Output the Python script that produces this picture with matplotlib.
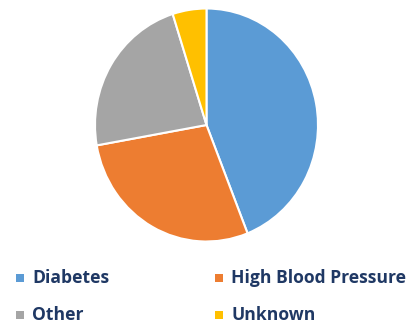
import matplotlib
matplotlib.use("Agg")
import matplotlib.pyplot as plt
from matplotlib.patches import Rectangle

# causes and their shares (%)
labels = ["Diabetes", "High Blood Pressure", "Other", "Unknown"]
shares = [44, 28.2, 22.9, 4.9]
colors = ["#5B9BD5", "#ED7D31", "#A5A5A5", "#FFC000"]

W, H = 418, 324
fig = plt.figure(figsize=(W / 100, H / 100), dpi=100)

# pie area (pixels): centre (206.5, 125 from top), radii 111.5 x 116.5
cx, cy, rx, ry = 206.5, 125, 111.5, 116.5
ax = fig.add_axes([(cx - rx) / W, (H - cy - ry) / H, 2 * rx / W, 2 * ry / H])
ax.pie(shares, colors=colors, startangle=90, counterclock=False, radius=1,
       wedgeprops=dict(edgecolor="white", linewidth=1.5))
ax.set_aspect("auto")
ax.set_xlim(-1, 1)
ax.set_ylim(-1, 1)
ax.axis("off")

# legend laid out by hand, two entries per row
col_x = [16, 215]
row_y = [278, 315]
for i, (lab, c) in enumerate(zip(labels, colors)):
    x = col_x[i % 2]
    y = H - row_y[i // 2]
    fig.patches.append(Rectangle((x / W, (y - 4) / H), 8 / W, 8 / H,
                                 transform=fig.transFigure, facecolor=c,
                                 edgecolor="none"))
    fig.text((x + 16) / W, y / H, lab, ha="left", va="center",
             family="Open Sans", weight="bold", fontsize=12.6, color="#1F3864")

fig.savefig("out.png", dpi=100)
